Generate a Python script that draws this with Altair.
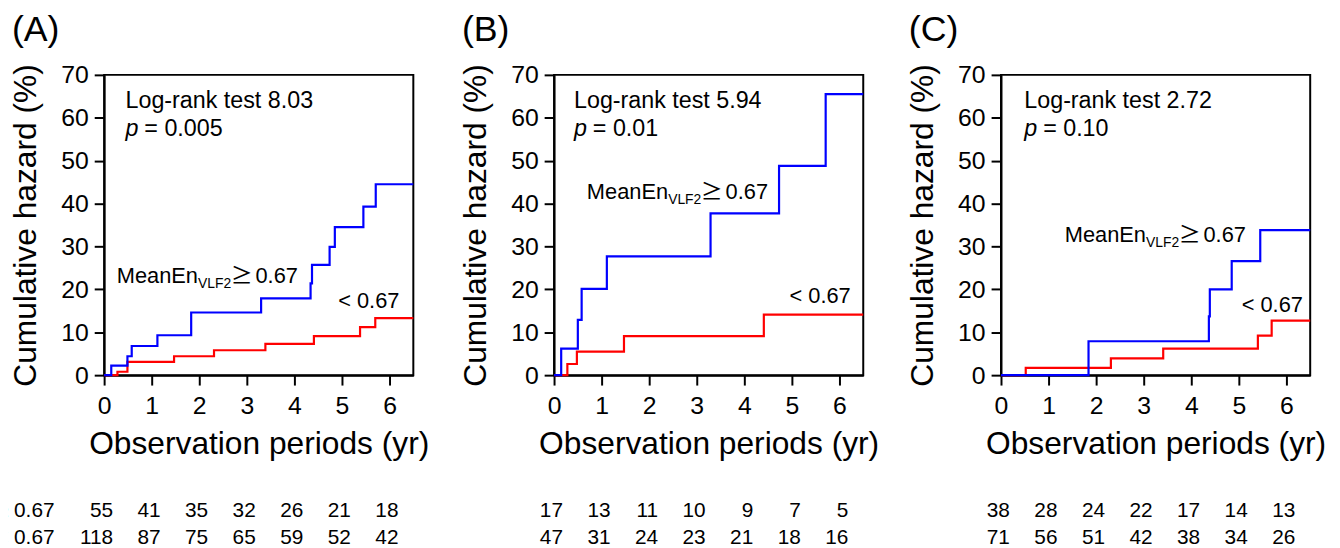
import altair as alt
import pandas as pd

FONT = "Liberation Sans"
CJK = "Noto Sans CJK JP"
BLUE = "#0000ff"
RED = "#ff0000"

YEARS = [0, 1, 2, 3, 4, 5, 6]
Y_TICKS = [0, 10, 20, 30, 40, 50, 60, 70]

# ---- step curves (time in years, cumulative hazard in %) ----
a_hi_t = [0, 0.15, 0.49, 0.58, 1.12, 1.83, 3.30, 4.34, 4.37, 4.74, 4.85, 5.45, 5.71, 6.5]
a_hi_v = [0, 2.2, 4.4, 6.8, 9.3, 14.6, 17.9, 21.4, 25.7, 29.9, 34.5, 39.3, 44.5, 44.5]
a_lo_t = [0, 0.28, 0.49, 1.47, 2.31, 3.39, 4.41, 5.38, 5.70, 6.5]
a_lo_v = [0, 0.8, 3.1, 4.4, 5.8, 7.3, 9.1, 11.2, 13.3, 13.3]

b_hi_t = [0, 0.15, 0.50, 0.58, 1.11, 3.29, 4.73, 5.71, 6.5]
b_hi_v = [0, 6.2, 12.9, 20.1, 27.7, 37.7, 48.8, 65.5, 65.5]
b_lo_t = [0, 0.28, 0.48, 1.47, 4.41, 6.5]
b_lo_v = [0, 2.6, 5.5, 9.1, 14.1, 14.1]

c_hi_t = [0, 1.84, 4.37, 4.39, 4.85, 5.45, 6.5]
c_hi_v = [0, 7.9, 13.7, 20.0, 26.6, 33.8, 33.8]
c_lo_t = [0, 0.52, 2.31, 3.41, 5.40, 5.69, 6.5]
c_lo_v = [0, 1.7, 3.9, 6.2, 9.2, 12.7, 12.7]

hi_t = [a_hi_t, b_hi_t, c_hi_t]
hi_v = [a_hi_v, b_hi_v, c_hi_v]
lo_t = [a_lo_t, b_lo_t, c_lo_t]
lo_v = [a_lo_v, b_lo_v, c_lo_v]

# ---- annotations ----
panel_letters = ["(A)", "(B)", "(C)"]
logrank_text = ["Log-rank test 8.03", "Log-rank test 5.94", "Log-rank test 2.72"]
p_text = ["= 0.005", "= 0.01", "= 0.10"]
logrank_x = [0.45, 0.42, 0.49]
logrank_y = 62.3
p_y = 55.7
hi_lab_x = [0.265, 0.69, 1.34]
hi_lab_y = [21.5, 41.0, 31.0]
lo_lab_x = [4.92, 4.95, 5.06]
lo_lab_y = [15.7, 16.9, 14.8]

# ---- number at risk ----
risk_hi = [[55, 41, 35, 32, 26, 21, 18], [17, 13, 11, 10, 9, 7, 5], [38, 28, 24, 22, 17, 14, 13]]
risk_lo = [[118, 87, 75, 65, 59, 52, 42], [47, 31, 24, 23, 21, 18, 16], [71, 56, 51, 42, 38, 34, 26]]
row_labels = ["\u2265 0.67", "< 0.67"]
row_label_x = -1.23

W, H = 312, 303


def xenc():
    return alt.X("t:Q", scale=alt.Scale(domain=[0, 6.5], nice=False, zero=False),
                 axis=alt.Axis(values=YEARS, title="Observation periods (yr)", labelPadding=9,
                               titlePadding=10, labelFlush=False))


def yenc():
    return alt.Y("v:Q", scale=alt.Scale(domain=[0, 70], nice=False),
                 axis=alt.Axis(values=Y_TICKS, title="Cumulative hazard (%)", labelPadding=6,
                               titlePadding=18))


def text_layer(t, v, label, **kw):
    df = pd.DataFrame({"t": [t], "v": [v], "label": [label]})
    opts = dict(font=FONT, fontSize=22, align="left", baseline="alphabetic", color="black")
    opts.update(kw)
    return alt.Chart(df).mark_text(**opts).encode(x=xenc(), y=yenc(), text="label:N")


def panel(i):
    df_lo = pd.DataFrame({"t": lo_t[i], "v": lo_v[i]})
    df_hi = pd.DataFrame({"t": hi_t[i], "v": hi_v[i]})
    lo = alt.Chart(df_lo).mark_line(interpolate="step-after", color=RED, strokeWidth=2.2).encode(x=xenc(), y=yenc())
    hi = alt.Chart(df_hi).mark_line(interpolate="step-after", color=BLUE, strokeWidth=2.2).encode(x=xenc(), y=yenc())
    layers = [
        lo, hi,
        text_layer(logrank_x[i], logrank_y, logrank_text[i], fontSize=23.5),
        text_layer(logrank_x[i], p_y, "p", fontStyle="italic", fontSize=23.5),
        text_layer(logrank_x[i], p_y, p_text[i], dx=19, fontSize=23.5),
        text_layer(hi_lab_x[i], hi_lab_y[i], "MeanEn"),
        text_layer(hi_lab_x[i], hi_lab_y[i], "VLF2", fontSize=14, dx=82, dy=5),
        text_layer(hi_lab_x[i], hi_lab_y[i], "\u2265", font=CJK, dx=115),
        text_layer(hi_lab_x[i], hi_lab_y[i], "0.67", dx=140),
        text_layer(lo_lab_x[i], lo_lab_y[i], "< 0.67"),
    ]
    plot = alt.layer(*layers).properties(
        width=W, height=H,
        title=alt.TitleParams(panel_letters[i], anchor="start", frame="group", dx=-93, fontSize=36,
                              font=FONT, fontWeight="normal", color="black", baseline="alphabetic",
                              offset=-14),
        view=alt.ViewBackground(stroke="black", strokeWidth=2),
    )

    rows_t, rows_r, rows_l = [], [], []
    for k, yr in enumerate(YEARS):
        rows_t.append(yr); rows_r.append(1); rows_l.append(str(risk_hi[i][k]))
        rows_t.append(yr); rows_r.append(2); rows_l.append(str(risk_lo[i][k]))
    if i == 0:
        rows_t += [row_label_x, row_label_x]
        rows_r += [1, 2]
        rows_l += row_labels
    df_tab = pd.DataFrame({"t": rows_t, "row": rows_r, "label": rows_l})
    table = alt.Chart(df_tab).mark_text(font=FONT, fontSize=21, align="right", baseline="middle",
                                         dx=9, color="black").encode(
        x=alt.X("t:Q", scale=alt.Scale(domain=[0, 6.5], nice=False, zero=False), axis=None),
        y=alt.Y("row:Q", scale=alt.Scale(domain=[2.5, -0.5], nice=False, zero=False), axis=None),
        text="label:N",
    ).properties(width=W, height=82.5, view=alt.ViewBackground(strokeOpacity=0, strokeWidth=0))

    return alt.vconcat(plot, table, spacing=10)


right_pair = alt.hconcat(panel(1), panel(2), spacing=26)
chart = alt.hconcat(panel(0), right_pair, spacing=29).properties(
    padding={"left": -13, "top": 1, "right": 5, "bottom": 0},
    background="white",
).configure_axis(
    grid=False, domainColor="black", domainWidth=2, tickColor="black", tickWidth=2, tickSize=10,
    labelFont=FONT, labelFontSize=25, labelColor="black",
    titleFont=FONT, titleFontSize=32, titleFontWeight="normal", titleColor="black",
).configure_view(stroke="black", strokeWidth=2)

chart.save("out.html", embed_options={"renderer": "svg", "actions": False})
